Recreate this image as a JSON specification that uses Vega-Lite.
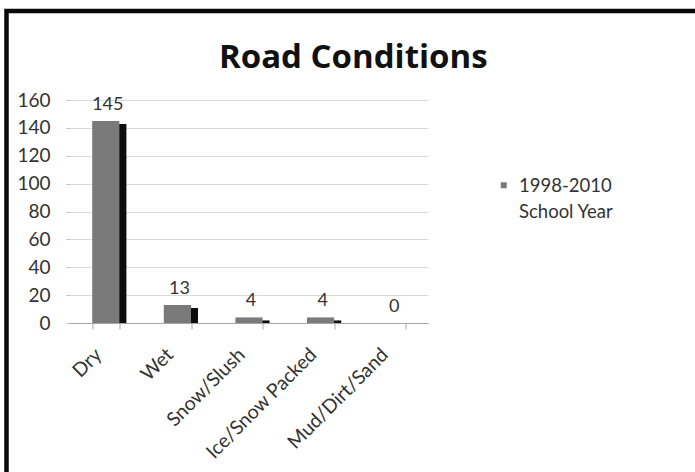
{
  "$schema": "https://vega.github.io/schema/vega-lite/v6.json",
  "width": 703.5,
  "height": 476,
  "autosize": {"type": "none"},
  "padding": {"left": 6.5, "top": 11, "right": -5, "bottom": -5},
  "background": "white",
  "config": {
    "view": {"stroke": "#0a0a0a", "strokeWidth": 4.5},
    "font": "Lato"
  },
  "title": {
    "text": "Road Conditions",
    "fontSize": 33,
    "fontWeight": "bold",
    "font": "Open Sans",
    "color": "#111111",
    "anchor": "middle",
    "frame": "group",
    "offset": -64,
    "dx": -5
  },
  "data": {
    "values": [
      {"condition": "Dry", "count": 145, "series": "1998-2010 School Year"},
      {"condition": "Wet", "count": 13, "series": "1998-2010 School Year"},
      {"condition": "Snow/Slush", "count": 4, "series": "1998-2010 School Year"},
      {"condition": "Ice/Snow Packed", "count": 4, "series": "1998-2010 School Year"},
      {"condition": "Mud/Dirt/Sand", "count": 0, "series": "1998-2010 School Year"}
    ]
  },
  "encoding": {
    "x": {
      "field": "condition",
      "type": "nominal",
      "sort": null,
      "scale": {"range": [63.5, 421.5], "paddingInner": 0.62, "paddingOuter": 0.31},
      "axis": {
        "title": null,
        "labelAngle": -45,
        "labelFontSize": 19.5,
        "labelColor": "#333333",
        "domainColor": "#a6a6a6",
        "tickColor": "#a6a6a6",
        "tickBand": "extent",
        "tickSize": 6,
        "labelPadding": 16,
        "labelOffset": -14,
        "offset": -164,
        "grid": false
      }
    },
    "y": {
      "field": "count",
      "type": "quantitative",
      "scale": {"domain": [0, 160], "range": [312, 89]},
      "axis": {
        "title": null,
        "values": [0, 20, 40, 60, 80, 100, 120, 140, 160],
        "offset": -63.5,
        "domain": false,
        "ticks": true,
        "tickSize": 4,
        "tickColor": "#bfbfbf",
        "grid": true,
        "gridColor": "#d9d9d9",
        "labelFontSize": 19,
        "labelColor": "#333333",
        "labelPadding": 16
      }
    }
  },
  "layer": [
    {
      "transform": [{"filter": "datum.count > 0"}],
      "mark": {"type": "bar", "color": "#0d0d0d", "xOffset": 7, "yOffset": 3},
      "encoding": {"y2": {"datum": 0}}
    },
    {
      "mark": {"type": "bar"},
      "encoding": {
        "color": {
          "field": "series",
          "type": "nominal",
          "scale": {"range": ["#7a7a7a"]},
          "legend": {
            "orient": "none",
            "legendX": 488,
            "legendY": 165,
            "title": null,
            "symbolType": "square",
            "symbolSize": 36,
            "labelFontSize": 18.5,
            "labelColor": "#333333",
            "labelLimit": 0,
            "labelOffset": 6,
            "labelBaseline": "top",
            "labelExpr": "['1998-2010', 'School Year']",
            "encode": {
              "labels": {"update": {"dy": {"value": -8}, "lineHeight": {"value": 26}}}
            }
          }
        }
      }
    },
    {
      "mark": {"type": "text", "baseline": "bottom", "dy": -7, "dx": 2, "fontSize": 18, "color": "#333333", "font": "Lato"},
      "encoding": {"text": {"field": "count", "type": "quantitative"}}
    }
  ]
}
